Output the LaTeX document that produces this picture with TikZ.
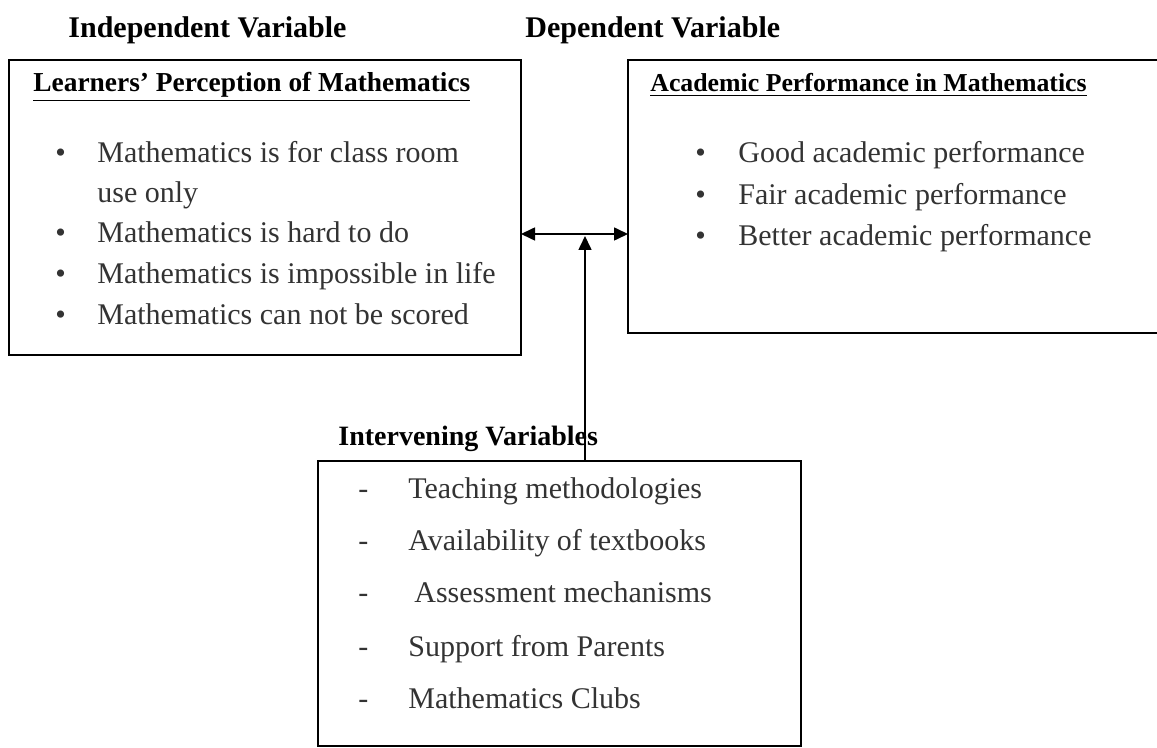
\documentclass[tikz,border=0pt]{standalone}
\usepackage{fontspec}
\setmainfont{Liberation Serif}
\usetikzlibrary{arrows.meta, positioning}
\tikzstyle{arr} = [line width=0.8pt, -{Triangle[length=7pt,width=6.5pt]}]
\tikzstyle{darr} = [line width=0.8pt, {Triangle[length=7pt,width=6.5pt]}-{Triangle[length=7pt,width=6.5pt]}]

\begin{document}
\begin{tikzpicture}[
        x=0.5pt, y=-0.5pt,
        box/.style={rectangle, draw, line width=1pt, anchor=north west,
            inner sep=0pt, outer sep=0pt},
        title/.style={anchor=base west, inner sep=0pt,
            font=\fontsize{15}{18}\selectfont\bfseries},
        head/.style={anchor=base west, inner sep=0pt,
            font=\fontsize{13.5}{16}\selectfont\bfseries},
        item/.style={anchor=base west, inner sep=0pt, text=black!80,
            font=\fontsize{15}{18}\selectfont}
    ]
    \clip (0,0) rectangle (1157,748);
    \fill [white] (0,0) rectangle (1157,748);

    % the three boxes
    \node (lbox) [box, minimum width=256pt, minimum height=147.5pt] at (9,60)   {};
    \node (rbox) [box, minimum width=271pt, minimum height=136.5pt] at (628,60) {};
    \node (ibox) [box, minimum width=241.5pt, minimum height=142.5pt] at (318,461) {};

    % titles above the boxes
    \node (indep) [title] at (68,38)  {Independent Variable};
    \node (dep)   [title] at (525,38) {Dependent Variable};
    \node (inter) [title, font=\fontsize{14}{17}\selectfont\bfseries] at (338,446) {Intervening Variables};

    % independent variable
    \node (lhead) [head, font=\fontsize{13.7}{16}\selectfont\bfseries] at (33,92)
        {\underline{Learners' Perception of Mathematics}};
    \node (lb1) [item] at (55,163) {\textbullet};
    \node (lt1) [item] at (97,163) {Mathematics is for class room};
    \node (lt1b)[item] at (97,203) {use only};
    \node (lb2) [item] at (55,243) {\textbullet};
    \node (lt2) [item] at (97,243) {Mathematics is hard to do};
    \node (lb3) [item] at (55,284) {\textbullet};
    \node (lt3) [item] at (97,284) {Mathematics is impossible in life};
    \node (lb4) [item] at (55,325) {\textbullet};
    \node (lt4) [item] at (97,325) {Mathematics can not be scored};

    % dependent variable
    \node (rhead) [head, font=\fontsize{12.9}{16}\selectfont\bfseries] at (650,92)
        {\underline{Academic Performance in Mathematics}};
    \node (rb1) [item] at (695,163) {\textbullet};
    \node (rt1) [item] at (738,163) {Good academic performance};
    \node (rb2) [item] at (695,205) {\textbullet};
    \node (rt2) [item] at (738,205) {Fair academic performance};
    \node (rb3) [item] at (695,246) {\textbullet};
    \node (rt3) [item] at (738,246) {Better academic performance};

    % intervening variables
    \node (id1) [item] at (358,499) {-};
    \node (it1) [item] at (408,499) {Teaching methodologies};
    \node (id2) [item] at (358,551) {-};
    \node (it2) [item] at (408,551) {Availability of textbooks};
    \node (id3) [item] at (358,603) {-};
    \node (it3) [item] at (414,603) {Assessment mechanisms};
    \node (id4) [item] at (358,656) {-};
    \node (it4) [item] at (408,656) {Support from Parents};
    \node (id5) [item] at (358,708) {-};
    \node (it5) [item] at (408,708) {Mathematics Clubs};

    % links
    \coordinate (jn) at (585,234);
    \draw [darr] (lbox.east |- jn) -- (rbox.west |- jn);
    \draw [arr]  (ibox.north -| jn) -- ([yshift=-1pt]jn);
\end{tikzpicture}
\end{document}
